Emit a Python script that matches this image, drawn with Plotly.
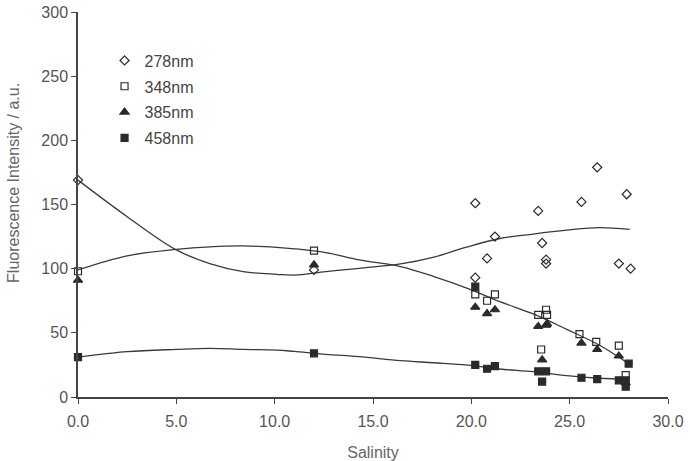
import plotly.graph_objects as go

# ---- data ----
x_278 = [0.0, 12.0, 20.2, 20.2, 20.8, 21.2, 23.4, 23.6, 23.8, 23.8, 25.6, 26.4, 27.5, 27.9, 28.1]
y_278 = [169, 99, 151, 93, 108, 125, 145, 120, 107, 104, 152, 179, 104, 158, 100]

x_348 = [0.0, 12.0, 20.2, 20.8, 21.2, 23.4, 23.55, 23.8, 23.85, 25.5, 26.35, 27.5, 27.85]
y_348 = [98, 114, 80, 75, 80, 64, 37, 68, 64, 49, 43, 40, 17]

x_385 = [0.0, 12.0, 20.2, 20.8, 21.2, 23.4, 23.6, 23.8, 23.85, 25.6, 26.4, 27.5, 27.85]
y_385 = [91, 103, 70, 65, 68, 55, 29, 56, 57, 42, 37, 32, 11]

x_458 = [0.0, 12.0, 20.2, 20.2, 20.8, 21.2, 23.4, 23.6, 23.8, 25.6, 26.4, 27.5, 27.85, 27.85, 28.0]
y_458 = [31, 34, 86, 25, 22, 24, 20, 12, 20, 15, 14, 13, 8, 13, 26]

# trend curves
fit_x = [0.0, 2.5, 5.0, 6.7, 8.4, 10.1, 11.0, 12.6, 14.3, 16.4, 18.1, 19.8, 21.45, 23.15, 24.85, 26.5, 28.05]
fit_278 = [169, 140.5, 114.6, 104, 97.7, 95.6, 95, 97.7, 100.3, 103.7, 109, 117, 123.5, 127, 130, 132, 130.6]
fit_348 = [99, 110, 115, 117, 117.7, 116.6, 115.5, 112.5, 106.8, 101.6, 93.8, 84.7, 74.3, 64.7, 52.7, 40.5, 25.4]
fit_458 = [31, 35.3, 37.1, 37.9, 37.1, 36.6, 35.5, 33.2, 31.4, 28.3, 26.7, 24.9, 21.8, 19.7, 16.6, 14.6, 13.7]

x_ticks = [0, 5, 10, 15, 20, 25, 30]
x_tick_labels = ["0.0", "5.0", "10.0", "15.0", "20.0", "25.0", "30.0"]
y_ticks = [0, 50, 100, 150, 200, 250, 300]
y_title = "Fluorescence Intensity / a.u."
x_title = "Salinity"

mk = "#2a2a2a"
ln = "#3a3a3a"
fig = go.Figure()

for fy in (fit_278, fit_348, fit_458):
    fig.add_trace(go.Scatter(x=fit_x, y=fy, mode="lines", line=dict(color=ln, width=1.3, shape="spline"),
                             showlegend=False, hoverinfo="skip"))

series = [
    ("278nm", x_278, y_278, "diamond-open", 7),
    ("348nm", x_348, y_348, "square-open", 7),
    ("385nm", x_385, y_385, "triangle-up", 8),
    ("458nm", x_458, y_458, "square", 7),
]
for name, xs, ys, sym, sz in series:
    fig.add_trace(go.Scatter(x=xs, y=ys, mode="markers", name=name, legendgroup=name,
                             marker=dict(symbol=sym, size=sz, color=mk, line=dict(color=mk, width=1.2)),
                             cliponaxis=False))

fam = "Arial, Liberation Sans, sans-serif"
tick_font = dict(family=fam, size=16, color="#555555")
title_font = dict(family=fam, size=16, color="#666666")
fig.update_layout(
    width=690, height=461,
    margin=dict(l=78, r=22, t=12, b=64, autoexpand=False),
    paper_bgcolor="white", plot_bgcolor="white",
    font=tick_font,
    showlegend=True,
    legend=dict(x=0.045, y=0.918, xanchor="left", yanchor="top", bgcolor="rgba(0,0,0,0)",
                font=dict(family=fam, size=16, color="#444444"),
                tracegroupgap=2, itemwidth=30),
    xaxis=dict(range=[0, 30], tickvals=x_ticks, ticktext=x_tick_labels, showgrid=False, zeroline=False,
               showline=True, linecolor="#444444", linewidth=1.5, ticks="outside", ticklen=5,
               tickcolor="#444444", tickwidth=1.2, tickfont=tick_font, ticklabelstandoff=4,
               automargin=False,
               title=dict(text=x_title, font=title_font, standoff=18)),
    yaxis=dict(range=[0, 300], tickvals=y_ticks, showgrid=False, zeroline=False,
               showline=True, linecolor="#444444", linewidth=1.5, ticks="outside", ticklen=5,
               tickcolor="#444444", tickwidth=1.2, tickfont=tick_font, automargin=False),
    annotations=[dict(text=y_title, xref="paper", yref="paper", x=0, y=0.556, xshift=-64,
                      textangle=-90, showarrow=False, font=title_font,
                      xanchor="center", yanchor="middle")],
)

fig.write_html("out.html")
